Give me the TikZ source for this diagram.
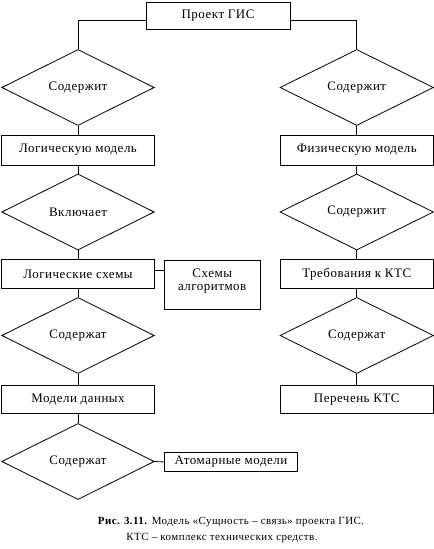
\documentclass[tikz,border=0pt]{standalone}
\usepackage{fontspec}
\setmainfont[LetterSpace=4]{Liberation Serif}
\usetikzlibrary{shapes.geometric}
\begin{document}
\begin{tikzpicture}[x=1bp,y=-1bp,
  every node/.style={font=\fontsize{13}{13}\selectfont},
  ent/.style={draw, rectangle, line width=0.8bp, inner sep=0pt, minimum width=152.6bp, minimum height=29bp},
  rel/.style={draw, diamond, line width=0.8bp, inner sep=0pt, minimum width=152.6bp, minimum height=76bp},
  link/.style={line width=0.8bp},
  captxt/.style={font=\fontsize{11}{11}\selectfont}]
\useasboundingbox (0,0) rectangle (434,549);
% top
\node[ent, minimum width=144bp, minimum height=27bp] (proj) at (218,15.5) {Проект ГИС};
% left column
\node[rel] (d1) at (78,87.5) {Содержит};
\node[ent, minimum height=30bp] (b1) at (78,150) {Логическую модель};
\node[rel] (d2) at (78,212) {Включает};
\node[ent] (b2) at (78,274) {Логические схемы};
\node[rel] (d3) at (78,335.5) {Содержат};
\node[ent, minimum height=28bp] (b3) at (78,399.3) {Модели данных};
\node[rel] (d4) at (78,461.5) {Содержат};
\node[ent, minimum width=133.4bp, minimum height=19.4bp] (atom) at (231,462) {Атомарные модели};
\node[ent, minimum width=95.7bp, minimum height=49bp] (sch) at (212.2,284.5) {};
\node[align=center, font=\fontsize{13}{13}\selectfont] (schtxt) at (212.2,281) {Схемы\\алгоритмов};
% right column
\node[rel, minimum width=153.5bp] (r1) at (356.75,87.5) {Содержит};
\node[ent, minimum width=153.5bp, minimum height=30bp] (rb1) at (356.75,150) {Физическую модель};
\node[rel, minimum width=153.5bp] (r2) at (356.75,212) {Содержит};
\node[ent, minimum width=153.5bp] (rb2) at (356.75,274) {Требования к КТС};
\node[rel, minimum width=153.5bp] (r3) at (356.75,335.5) {Содержат};
\node[ent, minimum width=153.5bp, minimum height=28bp] (rb3) at (356.75,399.3) {Перечень КТС};
% connectors
\draw[link] ([yshift=-5.2bp]proj.west) -| (d1.north);
\draw[link] ([yshift=-5.2bp]proj.east) -| (r1.north);
\draw[link] (d1.south) -- (b1.north);
\draw[link] (b1.south) -- (d2.north);
\draw[link] (d2.south) -- (b2.north);
\draw[link] (b2.south) -- (d3.north);
\draw[link] (d3.south) -- (b3.north);
\draw[link] (b3.south) -- (d4.north);
\draw[link] (d4.east) -- (atom.west);
\coordinate (c1) at ([yshift=4bp]b2.east);
\draw[link] (c1) -- (c1 -| sch.west);
\draw[link] (r1.south) -- (rb1.north);
\draw[link] (rb1.south) -- (r2.north);
\draw[link] (r2.south) -- (rb2.north);
\draw[link] (rb2.south) -- (r3.north);
\draw[link] (r3.south) -- (rb3.north);
% caption
\node[captxt] (cap1) at (231,522) {\textbf{Рис. 3.11.} Модель «Сущность – связь» проекта ГИС.};
\node[captxt] (cap2) at (222,538) {КТС – комплекс технических средств.};
\end{tikzpicture}
\end{document}
